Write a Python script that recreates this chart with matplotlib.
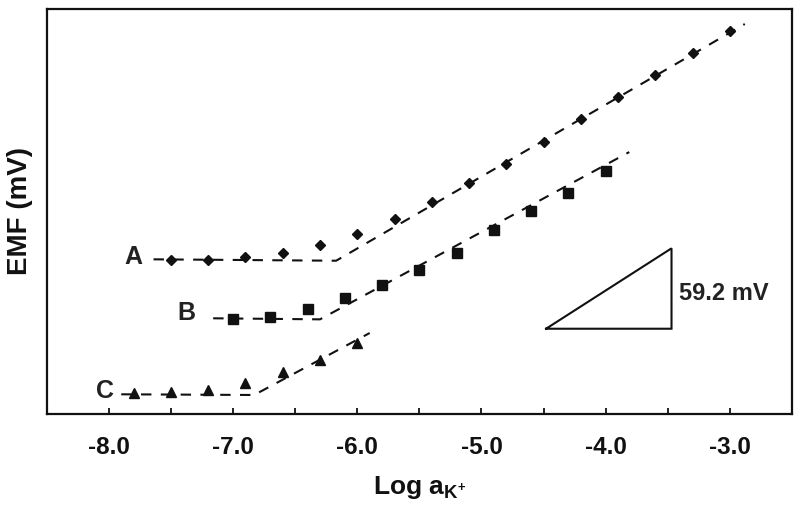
import matplotlib
matplotlib.use("Agg")
import matplotlib.pyplot as plt
from matplotlib.ticker import MultipleLocator

# 数据: log a(K+) 与 EMF (mV)
log_a_A = [-7.5, -7.2, -6.9, -6.6, -6.3, -6.0, -5.7, -5.4, -5.1, -4.8, -4.5, -4.2, -3.9, -3.6, -3.3, -3.0]
emf_A = [133, 133, 135.5, 139, 146, 155, 168, 183, 199, 216, 235, 255, 274, 293, 312, 331]

log_a_B = [-7.0, -6.7, -6.4, -6.1, -5.8, -5.5, -5.2, -4.9, -4.6, -4.3, -4.0]
emf_B = [82, 84, 91, 100, 111, 124, 139, 159, 175, 191, 210]

log_a_C = [-7.8, -7.5, -7.2, -6.9, -6.6, -6.3, -6.0]
emf_C = [18, 19, 21, 27, 36, 47, 61]

# 拟合虚线 (平台段 + 线性段)
fit_x_A = [-7.64, -6.17, -2.88]
fit_y_A = [133.5, 132.3, 336.6]
fit_x_B = [-7.16, -6.30, -3.81]
fit_y_B = [82.6, 81.7, 226.1]
fit_x_C = [-7.90, -6.83, -5.90]
fit_y_C = [17.0, 16.4, 69.9]

# 斜率三角形
slope_x = [-4.48, -3.47, -3.47, -4.48]
slope_y = [73.6, 73.6, 143.0, 73.6]
slope_label = "59.2 mV"

curve_names = ["A", "B", "C"]
x_ticks = [-8.0, -7.0, -6.0, -5.0, -4.0, -3.0]

plt.rcParams["font.family"] = ["Liberation Sans", "DejaVu Sans"]
plt.rcParams["font.weight"] = "bold"
plt.rcParams["mathtext.fontset"] = "custom"
plt.rcParams["mathtext.rm"] = "Liberation Sans:bold"
plt.rcParams["mathtext.it"] = "Liberation Sans:bold"
plt.rcParams["mathtext.bf"] = "Liberation Sans:bold"

ink = "#111111"
fig = plt.figure(figsize=(8, 5.13), dpi=100)
ax = fig.add_axes([0.0584, 0.193, 0.9316, 0.7904])

dash = (0, (5, 4.5))
for fx, fy in [(fit_x_A, fit_y_A), (fit_x_B, fit_y_B), (fit_x_C, fit_y_C)]:
    ax.plot(fx, fy, color=ink, lw=1.5, linestyle=dash, zorder=2)

ax.plot(log_a_A, emf_A, "D", color=ink, ms=5.6, zorder=3)
ax.plot(log_a_B, emf_B, "s", color=ink, ms=7, zorder=3)
ax.plot(log_a_C, emf_C, "^", color=ink, ms=7.5, zorder=3)

label_pos = [(-7.80, 135.7), (-7.375, 86.9), (-8.03, 19.8)]
for name, (lx, ly) in zip(curve_names, label_pos):
    ax.text(lx, ly, name, fontsize=18, fontweight="bold", color="#222222",
            ha="center", va="center")

ax.plot(slope_x, slope_y, color=ink, lw=1.5, solid_joinstyle="miter", zorder=2)
ax.text(-3.41, 104.4, slope_label, fontsize=17, fontweight="bold", color="#222222",
        ha="left", va="center")

ax.set_xlim(-8.5, -2.5)
ax.set_ylim(0, 350)
ax.set_xticks(x_ticks)
ax.set_xticklabels([f"{t:.1f}" for t in x_ticks])
ax.xaxis.set_minor_locator(MultipleLocator(0.5))
ax.tick_params(axis="x", which="both", direction="in", length=4, width=1.3,
               color=ink, labelsize=17.5, pad=16, labelcolor=ink)
ax.set_yticks([])

for sp in ax.spines.values():
    sp.set_linewidth(1.6)
    sp.set_color(ink)

ax.set_xlabel(r"Log a$_{\mathrm{K^{+}}}$", fontsize=19, fontweight="bold", color=ink, labelpad=11)
ax.set_ylabel("EMF (mV)", fontsize=20, fontweight="bold", color=ink, labelpad=10)

fig.savefig("out.png", dpi=100)
